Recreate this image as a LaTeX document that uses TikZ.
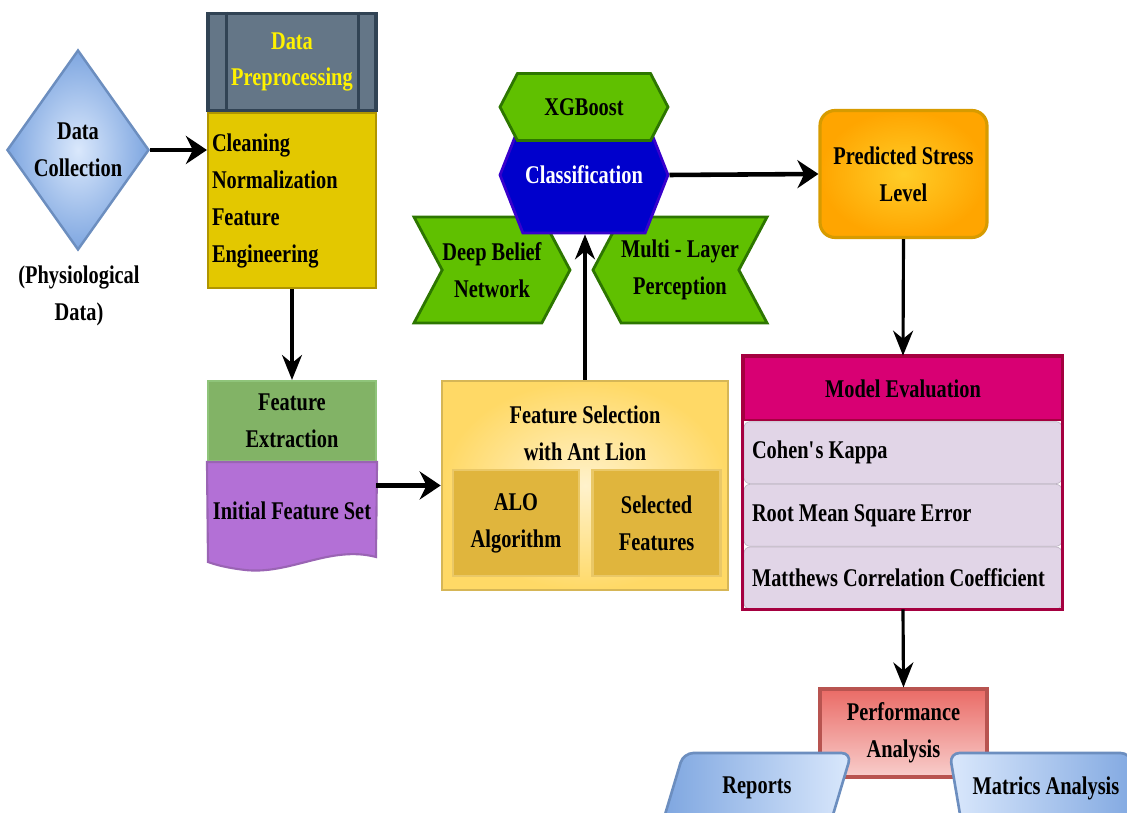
\documentclass[tikz,border=0pt]{standalone}
\usepackage{xcolor}
\usepackage{fontspec}
\setmainfont{Liberation Serif}[FakeStretch=0.8]
\usepackage{tikz}
\usetikzlibrary{shapes.geometric,shapes.symbols,positioning,calc,arrows.meta}

\definecolor{dcFill}{HTML}{7EA6E0}
\definecolor{dcLight}{HTML}{DAE8FC}
\definecolor{dcEdge}{HTML}{6C8EBF}
\definecolor{preHead}{HTML}{647687}
\definecolor{preEdge}{HTML}{314354}
\definecolor{preBody}{HTML}{E3C800}
\definecolor{preBodyEdge}{HTML}{B09500}
\definecolor{extGreen}{HTML}{82B366}
\definecolor{extEdge}{HTML}{8FC47A}
\definecolor{setPurple}{HTML}{B370D6}
\definecolor{setEdge}{HTML}{9A64B4}
\definecolor{selFill}{HTML}{FFD966}
\definecolor{selLight}{HTML}{FFF2CC}
\definecolor{selEdge}{HTML}{D6B656}
\definecolor{aloFill}{HTML}{E0B53D}
\definecolor{aloEdge}{HTML}{EAC867}
\definecolor{clsBlue}{HTML}{0000CC}
\definecolor{clsEdge}{HTML}{3700CC}
\definecolor{algGreen}{HTML}{60C000}
\definecolor{algEdge}{HTML}{2D7600}
\definecolor{predOrange}{HTML}{FFA500}
\definecolor{predLight}{HTML}{FFCD28}
\definecolor{predEdge}{HTML}{D79B00}
\definecolor{evalHead}{HTML}{D80073}
\definecolor{evalEdge}{HTML}{A50040}
\definecolor{evalRow}{HTML}{E1D5E7}
\definecolor{perfTop}{HTML}{EA6B66}
\definecolor{perfBottom}{HTML}{F8CECC}
\definecolor{perfEdge}{HTML}{B85450}

\begin{document}
\begin{tikzpicture}[x=0.02cm, y=-0.02cm, font=\fontsize{14.5}{21}\selectfont\bfseries,
    flow/.style={-{Stealth[length=0.42cm,width=0.56cm]}, line width=2.6pt},
    down/.style={-{Stealth[length=0.5cm,width=0.4cm]}, line width=1.8pt},
    block/.style={rectangle, align=center, inner sep=0.08cm},
    algo/.style={signal, draw=algEdge, fill=algGreen, line width=1.6pt, align=center, inner sep=0pt},
    evalrow/.style={rectangle, rounded corners=0.12cm, fill=evalRow, draw=evalRow!85!black, text width=6.04cm, minimum height=1.24cm, inner sep=0.16cm, align=flush left},
    outcome/.style={trapezium, trapezium stretches=true, rounded corners=0.2cm, draw=dcEdge, line width=1.5pt, minimum height=1.4cm, inner sep=0pt}]
    \useasboundingbox (0,0) rectangle (1127,813);

    % Data collection - left
    \node [diamond, draw=dcEdge, line width=1.4pt, inner color=dcLight, outer color=dcFill, minimum width=2.8cm, minimum height=4cm, inner sep=0pt, align=center] (collect) at (78,150) {Data\\Collection};
    \node [align=center] (physio) at (79,296) {(Physiological\\Data)};

    % Preprocessing - top
    \node [block, fill=preHead, draw=preEdge, line width=2pt, minimum width=3.36cm, minimum height=1.94cm, text=yellow] (prephead) at (292,62) {Data\\Preprocessing};
    \draw [preEdge, line width=2pt] ($(prephead.north west)+(20,0)$) -- ($(prephead.south west)+(20,0)$)
        ($(prephead.north east)+(-19,0)$) -- ($(prephead.south east)+(-19,0)$);
    \node [block, below=0pt of prephead, fill=preBody, draw=preBodyEdge, line width=1.2pt, text width=3.2cm, minimum height=3.5cm, align=flush left] (prepbody) {Cleaning\\Normalization\\Feature\\Engineering};

    % Feature extraction - middle left
    \node [block, fill=extGreen, draw=extEdge, line width=1.2pt, minimum width=3.36cm, minimum height=1.6cm] (exthead) at (292,421) {Feature\\Extraction};
    \filldraw [fill=setPurple, draw=setEdge, line width=1.2pt] (exthead.south west) -- (exthead.south east) -- (376,557)
        .. controls (330,545) and (290,575) .. (245,570) .. controls (228,568) and (216,565) .. (208,562) -- cycle;
    \node [block, below=0pt of exthead, minimum width=3.36cm, minimum height=1.92cm] (initset) {Initial Feature Set};

    % Feature selection - middle
    \node [block, inner color=selLight, outer color=selFill, draw=selEdge, line width=1.5pt, minimum width=5.72cm, minimum height=4.18cm] (fsel) at (585,485.5) {};
    \node [align=center] (fseltitle) at (585,433) {Feature Selection\\with Ant Lion};
    \node [block, fill=aloFill, draw=aloEdge, line width=1.5pt, minimum width=2.52cm, minimum height=2.12cm] (alo) at (516,523) {ALO\\Algorithm};
    \node [block, fill=aloFill, draw=aloEdge, line width=1.5pt, minimum width=2.56cm, minimum height=2.12cm, right=0.22cm of alo] (selected) {Selected\\Features};

    % Classifiers
    \node [algo, signal to=east, signal from=west, signal pointer angle=124, minimum width=3.12cm, minimum height=2.12cm] (dbn) at (492,270) {Deep Belief\\Network};
    \node [algo, signal to=west, signal from=east, signal pointer angle=124, minimum width=3.06cm, minimum height=2.12cm] (mlp) at (680,270) {Multi - Layer\\Perception};
    \node [signal, signal to=east and west, signal pointer angle=137, fill=clsBlue, draw=clsEdge, line width=1.6pt, text=white, inner sep=0pt, minimum width=3.36cm, minimum height=2.32cm] (classify) at (584,175) {Classification};
    \node [algo, signal to=east and west, signal pointer angle=125, minimum width=3.36cm, minimum height=1.34cm] (xgb) at (584,107) {XGBoost};

    % Results - right
    \node [block, rounded corners=0.3cm, inner color=predLight, outer color=predOrange, draw=predEdge, line width=1.8pt, minimum width=3.34cm, minimum height=2.54cm] (pred) at (903.5,174) {Predicted Stress\\Level};
    \node [block, fill=evalHead, draw=evalEdge, line width=1.5pt, minimum width=6.36cm, minimum height=1.26cm] (evalhead) at (903,388.5) {Model Evaluation};
    \node [evalrow, below=0pt of evalhead] (kappa) {Cohen\textquotesingle s Kappa};
    \node [evalrow, below=0pt of kappa] (rmse) {Root Mean Square Error};
    \node [evalrow, below=0pt of rmse] (mcc) {Matthews Correlation Coefficient};
    \draw [evalEdge, line width=1.5pt] (evalhead.north west) rectangle (mcc.south east);
    \node [block, top color=perfTop, bottom color=perfBottom, draw=perfEdge, line width=1.8pt, minimum width=3.34cm, minimum height=1.76cm] (perf) at (903.5,733) {Performance\\Analysis};
    \node [outcome, left color=dcFill, right color=dcLight, trapezium left angle=66, trapezium right angle=114, minimum width=3.8cm] (reports) at (757,788) {Reports};
    \node [outcome, left color=dcLight, right color=dcFill, trapezium left angle=114, trapezium right angle=66, minimum width=3.86cm] (matrics) at (1046,788) {Matrics Analysis};

    % Connectors
    \draw [flow] (collect.east) -- (collect.east -| prepbody.west);
    \draw [down] (prepbody.south) -- (exthead.north);
    \draw [flow] (initset.east |- fsel.west) -- (fsel.west);
    \draw [down] (fsel.north) -- (fsel.north |- classify.south);
    \draw [flow] (classify.east) -- (pred.west);
    \draw [down] (pred.south) -- (evalhead.north);
    \draw [down] (mcc.south) -- (perf.north);

\end{tikzpicture}
\end{document}
